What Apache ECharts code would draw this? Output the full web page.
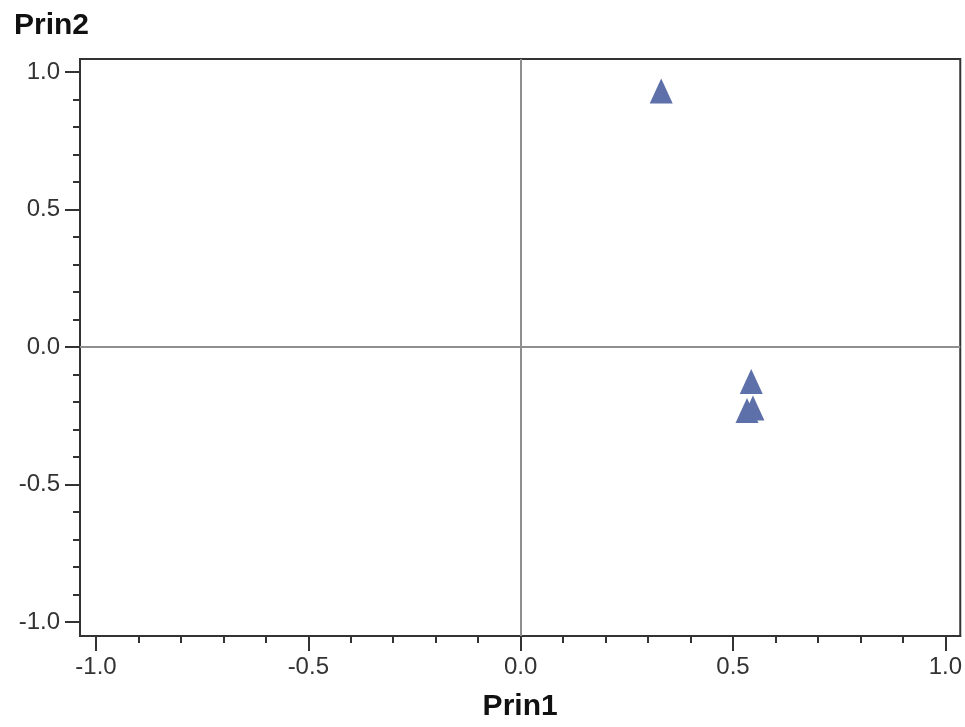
<!DOCTYPE html>
<html>
<head>
<meta charset="utf-8">
<script src="https://cdn.jsdelivr.net/npm/echarts@6/dist/echarts.min.js"></script>
<style>
  html, body { margin: 0; padding: 0; background: #fff; }
  #chart { width: 965px; height: 727px; }
</style>
</head>
<body>
<div id="chart"></div>
<script>
// Component loadings: Prin1 (x) against Prin2 (y)
const prin1 = [0.331, 0.543, 0.533, 0.547];
const prin2 = [0.931, -0.125, -0.231, -0.222];

// Axis tick values
const majorTicks = [-1.0, -0.5, 0.0, 0.5, 1.0];
const minorTicks = [];
for (let i = -10; i <= 10; i++) minorTicks.push(i / 10);

const FONT = '"Liberation Sans", Arial, sans-serif';
const X_MIN = -1.0376, X_MAX = 1.0352;
const Y_MIN = -1.0506, Y_MAX = 1.047;

const points = prin1.map((x, i) => [x, prin2[i]]);

const fmt = v => Number(v).toFixed(1);

const chart = echarts.init(document.getElementById('chart'), null, { renderer: 'canvas' });
chart.setOption({
  animation: false,
  backgroundColor: '#ffffff',
  title: {
    text: 'Prin2',
    left: 9,
    top: 6,
    textStyle: { fontFamily: FONT, fontWeight: 'bold', fontSize: 30, color: '#111' }
  },
  grid: {
    left: 80, right: 2, top: 59, bottom: 88,
    show: true, borderColor: '#333', borderWidth: 2,
    containLabel: false
  },
  xAxis: [
    {
      type: 'value', min: X_MIN, max: X_MAX,
      name: 'Prin1', nameLocation: 'middle', nameGap: 56,
      nameTextStyle: { fontFamily: FONT, fontWeight: 'bold', fontSize: 30, color: '#111' },
      axisLine: { show: true, onZero: false, lineStyle: { color: '#333', width: 2 } },
      axisTick: { show: true, customValues: majorTicks, length: 15, lineStyle: { color: '#333', width: 2 } },
      axisLabel: { show: true, customValues: majorTicks, formatter: fmt, margin: 19,
        fontFamily: FONT, fontSize: 24, color: '#333' },
      splitLine: { show: false }
    },
    {
      type: 'value', min: X_MIN, max: X_MAX, position: 'bottom',
      axisLine: { show: false, onZero: false },
      axisTick: { show: true, customValues: minorTicks, length: 7, lineStyle: { color: '#333', width: 2 } },
      axisLabel: { show: false },
      splitLine: { show: false }
    }
  ],
  yAxis: [
    {
      type: 'value', min: Y_MIN, max: Y_MAX,
      axisLine: { show: true, onZero: false, lineStyle: { color: '#333', width: 2 } },
      axisTick: { show: true, customValues: majorTicks, length: 15, lineStyle: { color: '#333', width: 2 } },
      axisLabel: { show: true, customValues: majorTicks, formatter: fmt, margin: 20,
        fontFamily: FONT, fontSize: 24, color: '#333' },
      splitLine: { show: false }
    },
    {
      type: 'value', min: Y_MIN, max: Y_MAX, position: 'left',
      axisLine: { show: false, onZero: false },
      axisTick: { show: true, customValues: minorTicks, length: 7, lineStyle: { color: '#333', width: 2 } },
      axisLabel: { show: false },
      splitLine: { show: false }
    }
  ],
  series: [
    {
      type: 'scatter',
      xAxisIndex: 0, yAxisIndex: 0,
      data: points,
      symbol: 'triangle',
      symbolSize: [23, 25],
      itemStyle: { color: '#5d70aa', opacity: 1 },
      z: 5,
      markLine: {
        silent: true,
        symbol: ['none', 'none'],
        label: { show: false },
        lineStyle: { color: '#8f8f8f', width: 2, type: 'solid' },
        data: [{ xAxis: 0 }, { yAxis: 0 }],
        z: 1
      }
    }
  ]
});
</script>
</body>
</html>
